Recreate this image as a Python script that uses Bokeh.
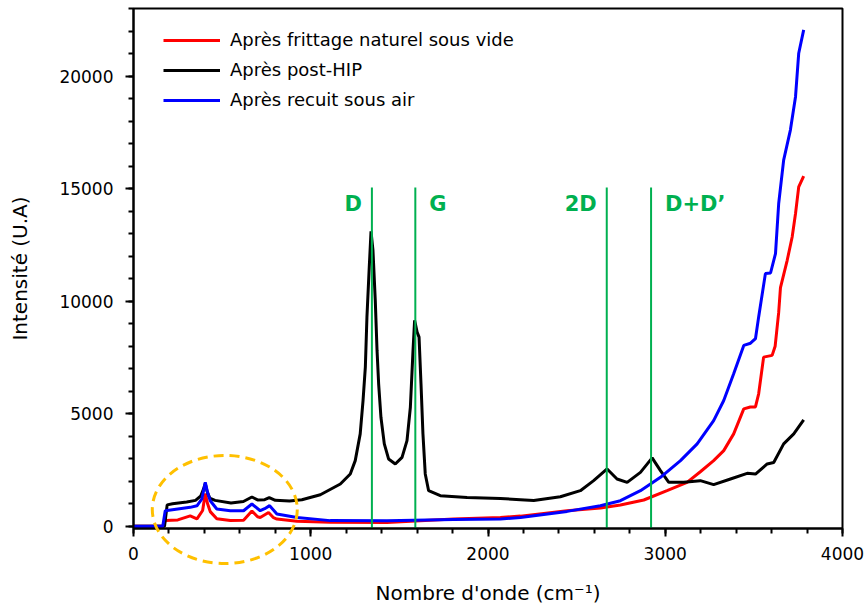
from bokeh.plotting import figure
from bokeh.layouts import column
from bokeh.models import (ColumnDataSource, SingleIntervalTicker, Legend, LegendItem, Range1d)
from bokeh.core.properties import value
from bokeh.embed import file_html
from bokeh.resources import INLINE

# ---------------- data ----------------
red_x = [0, 150, 165, 180, 250, 320, 358, 390, 405, 418, 433, 470, 546, 621, 668, 700, 715,
         762, 790, 809, 922, 1110, 1430, 1806, 2070, 2183, 2446, 2634, 2747, 2879, 3010, 3123,
         3198, 3273, 3330, 3386, 3443, 3480, 3509, 3527, 3555, 3603, 3620, 3640, 3650, 3688,
         3716, 3735, 3753, 3781]
red_y = [0, 0, 0, 250, 280, 460, 330, 700, 1450, 1000, 650, 330, 260, 270, 680, 420, 390,
         610, 380, 320, 220, 180, 170, 320, 390, 450, 690, 810, 943, 1166, 1580, 1950,
         2420, 2915, 3360, 4103, 5215, 5300, 5300, 5883, 7512, 7590, 8000, 9500, 10600, 11815,
         12851, 13893, 15077, 15553]

black_x = [0, 150, 175, 190, 220, 300, 350, 380, 395, 405, 415, 430, 460, 550, 620, 668, 700,
           740, 766, 800, 880, 950, 1054, 1167, 1223, 1251, 1279, 1295, 1308, 1317, 1330, 1340,
           1351, 1364, 1374, 1383, 1396, 1415, 1439, 1477, 1515, 1543, 1562, 1577, 1586, 1600,
           1611, 1622, 1633, 1646, 1665, 1731, 1882, 2070, 2183, 2258, 2408, 2521, 2596, 2672,
           2728, 2785, 2860, 2926, 2973, 3020, 3104, 3198, 3273, 3368, 3462, 3509, 3575, 3612,
           3668, 3725, 3781]
black_y = [0, 0, 0, 950, 1000, 1080, 1150, 1350, 1650, 1900, 1550, 1250, 1150, 1030, 1100, 1300,
           1170, 1180, 1270, 1150, 1120, 1180, 1400, 1878, 2323, 2915, 4103, 5585, 7067, 9290,
           11500, 13100, 12260, 10035, 7810, 6328, 4842, 3658, 2990, 2767, 3062, 3805, 5287, 7810,
           9145, 8625, 8400, 6328, 4103, 2323, 1580, 1357, 1282, 1230, 1180, 1140, 1313, 1580,
           2025, 2545, 2100, 1950, 2395, 3035, 2470, 1950, 1950, 2025, 1847, 2100, 2350, 2320,
           2767, 2830, 3658, 4103, 4725]

blue_x = [0, 150, 165, 179, 250, 320, 358, 385, 405, 418, 433, 470, 546, 621, 668, 715, 740,
          768, 809, 922, 1110, 1430, 1806, 2070, 2183, 2446, 2634, 2747, 2860, 2973, 3086,
          3180, 3273, 3330, 3386, 3443, 3481, 3509, 3527, 3565, 3594, 3622, 3640, 3668, 3706,
          3735, 3753, 3781]
blue_y = [0, 0, 0, 690, 765, 840, 910, 1200, 1950, 1500, 1135, 765, 690, 690, 988, 690, 780,
          915, 543, 390, 250, 245, 300, 320, 390, 660, 912, 1135, 1580, 2172, 2915,
          3658, 4695, 5585, 6773, 8032, 8130, 8330, 9300, 11223, 11250, 12113, 14338, 16265, 17600,
          19082, 21013, 22050]

series_names = ["Après frittage naturel sous vide", "Après post-HIP", "Après recuit sous air"]
series_colors = ["#FF0000", "#000000", "#0000FF"]

band_x = [1345, 1590, 2670, 2920]
band_labels = ["D", "G", "2D", "D+D\u2019"]
band_align = ["right", "left", "right", "left"]
band_offset = [-10, 14, -10, 14]
band_top = 15050
band_label_y = 14300

X_MIN, X_MAX = 0, 4000
Y_MIN, Y_MAX = -100, 23000
Y_OVERLAY_MIN = -3565       # overlay frame reaches below the x axis (same scale)
x_ticks_interval = 1000
y_ticks_interval = 5000

# highlight ellipse (annotation), data units
ell_cx, ell_cy, ell_w, ell_h = 515, 744, 818, 4800

W, H = 865, 611

# ---------------- main figure ----------------
FONT = "DejaVu Sans"
p = figure(width=W, height=H, output_backend="svg", toolbar_location=None,
           x_range=Range1d(X_MIN, X_MAX), y_range=Range1d(Y_MIN, Y_MAX),
           min_border_left=133, min_border_right=23, min_border_top=8, min_border_bottom=83,
           background_fill_color="white", border_fill_color="white")
p.xgrid.visible = False
p.ygrid.visible = False
p.outline_line_color = "black"
p.outline_line_width = 2

p.xaxis.ticker = SingleIntervalTicker(interval=x_ticks_interval, num_minor_ticks=5)
p.yaxis.ticker = SingleIntervalTicker(interval=y_ticks_interval, num_minor_ticks=5)
for ax in (p.xaxis, p.yaxis):
    ax.axis_line_width = 2
    ax.axis_line_color = "black"
    ax.major_tick_line_width = 2
    ax.minor_tick_line_width = 2
    ax.major_tick_in = 0
    ax.major_tick_out = 8
    ax.minor_tick_in = 0
    ax.minor_tick_out = 5
    ax.major_label_text_font = FONT
    ax.major_label_text_font_size = "17px"
    ax.major_label_text_color = "black"
    ax.axis_label_text_font = FONT
    ax.axis_label_text_font_size = "20px"
    ax.axis_label_text_font_style = "normal"
    ax.axis_label_text_color = "black"
p.xaxis.axis_label = "Nombre d'onde (cm\u207b\u00b9)"
p.yaxis.axis_label = "Intensité (U.A)"
p.xaxis.major_label_standoff = 10
p.yaxis.major_label_standoff = 12
p.xaxis.axis_label_standoff = 18
p.yaxis.axis_label_standoff = 24

renderers = []
for xs, ys, c in ((red_x, red_y, series_colors[0]), (black_x, black_y, series_colors[1]),
                  (blue_x, blue_y, series_colors[2])):
    r = p.line(xs, ys, line_color=c, line_width=3)
    renderers.append(r)

# band markers
bsrc = ColumnDataSource(dict(x=band_x, y0=[Y_MIN] * len(band_x), y1=[band_top] * len(band_x),
                             ly=[band_label_y] * len(band_x), text=band_labels,
                             align=band_align, xoff=band_offset))
p.segment(x0="x", y0="y0", x1="x", y1="y1", source=bsrc, line_color="#00B050", line_width=2)
p.text(x="x", y="ly", text="text", text_align="align", x_offset="xoff", source=bsrc,
       text_font=value(FONT), text_font_style="bold", text_font_size="21px",
       text_color="#00B050", text_baseline="alphabetic")

legend = Legend(items=[LegendItem(label=n, renderers=[r]) for n, r in zip(series_names, renderers)],
                location=(30, 418), border_line_alpha=0, background_fill_alpha=0,
                label_text_font=FONT, label_text_font_size="18px", label_text_color="black",
                glyph_width=57, glyph_height=20, label_height=20, spacing=9,
                label_standoff=10, padding=0, margin=0)
p.add_layout(legend)

# ---------------- transparent overlay for the dashed ellipse ----------------
# (same x mapping and y scale as the main frame, but reaching below the x axis)
ov = figure(width=W, height=H, output_backend="svg", toolbar_location=None,
            x_range=Range1d(X_MIN, X_MAX), y_range=Range1d(Y_OVERLAY_MIN, Y_MAX),
            x_axis_location=None, y_axis_location=None,
            min_border_left=133, min_border_right=23, min_border_top=8, min_border_bottom=5,
            background_fill_color=None, border_fill_color=None, outline_line_color=None,
            margin=(-H, 0, 0, 0))
ov.xgrid.visible = False
ov.ygrid.visible = False
ov.ellipse(x=[ell_cx], y=[ell_cy], width=[ell_w], height=[ell_h], fill_alpha=0,
           line_color="#FFC000", line_width=3, line_dash="10 6")

layout = column(p, ov, spacing=0)
open("out.html", "w").write(file_html(layout, INLINE))
